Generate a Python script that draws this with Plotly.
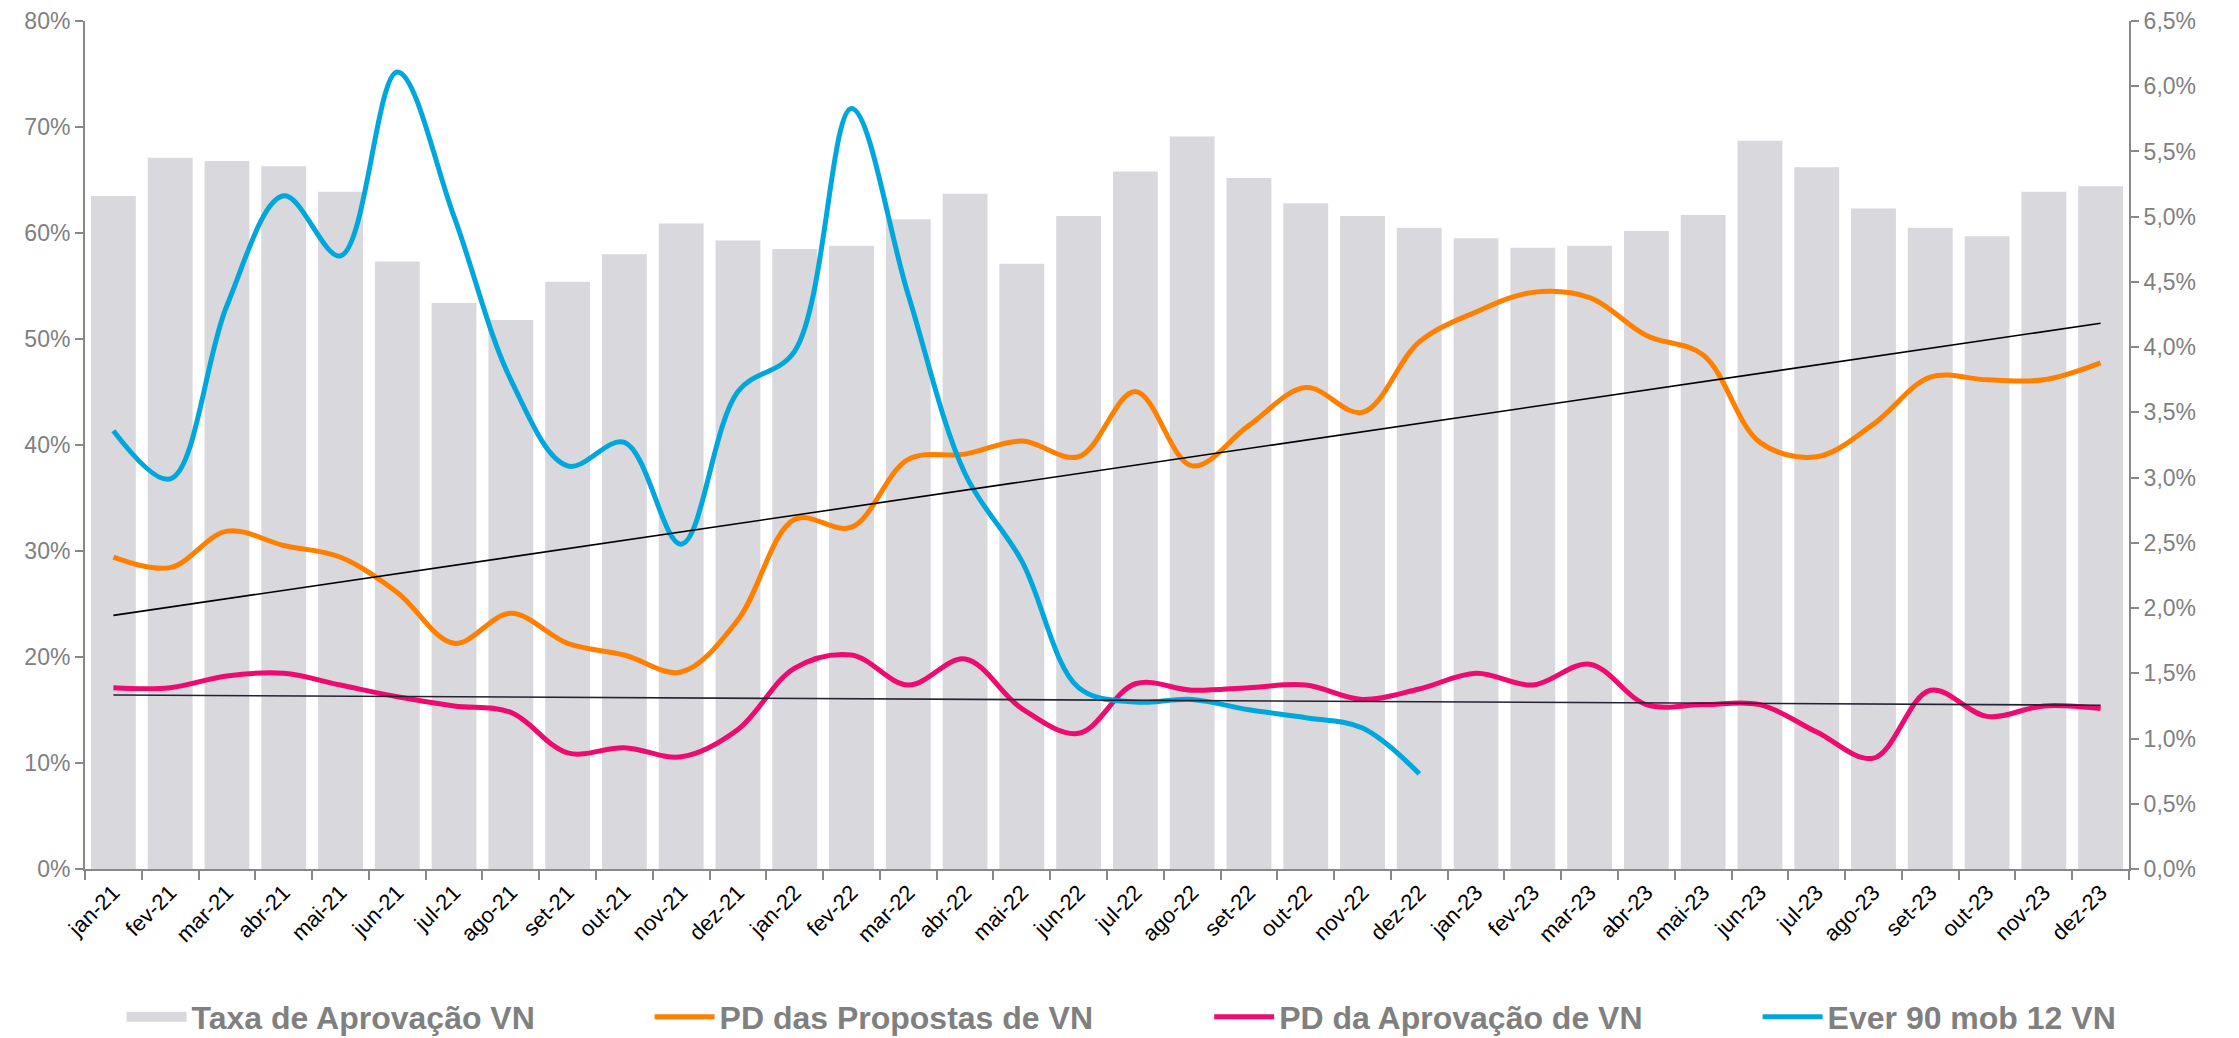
import numpy as np
import plotly.graph_objects as go

months = ["jan-21","fev-21","mar-21","abr-21","mai-21","jun-21","jul-21","ago-21","set-21","out-21","nov-21","dez-21",
          "jan-22","fev-22","mar-22","abr-22","mai-22","jun-22","jul-22","ago-22","set-22","out-22","nov-22","dez-22",
          "jan-23","fev-23","mar-23","abr-23","mai-23","jun-23","jul-23","ago-23","set-23","out-23","nov-23","dez-23"]

# Taxa de Aprovação VN (left axis)
taxa_aprovacao = [0.635,0.671,0.668,0.663,0.639,0.573,0.534,0.518,0.554,0.580,0.609,0.593,
                  0.585,0.588,0.613,0.637,0.571,0.616,0.658,0.691,0.652,0.628,0.616,0.605,
                  0.595,0.586,0.588,0.602,0.617,0.687,0.662,0.623,0.605,0.597,0.639,0.644]

# PD das Propostas de VN (right axis)
pd_propostas = [0.0239,0.0231,0.0259,0.0248,0.0239,0.0212,0.0173,0.0196,0.0173,0.0164,0.0151,0.0191,
                0.0268,0.0262,0.0314,0.0318,0.0328,0.0316,0.0366,0.0309,0.0340,0.0369,0.0350,0.0404,
                0.0427,0.0442,0.0438,0.0409,0.0394,0.0327,0.0316,0.0341,0.0377,0.0375,0.0375,0.0388]

# PD da Aprovação de VN (right axis)
pd_aprovacao = [0.0139,0.0139,0.0148,0.0150,0.0141,0.0132,0.0125,0.0120,0.0089,0.0093,0.0086,0.0107,
                0.0154,0.0164,0.0141,0.0161,0.0123,0.0104,0.0142,0.0137,0.0139,0.0141,0.0130,0.0138,
                0.0150,0.0141,0.0157,0.0126,0.0126,0.0126,0.0105,0.0085,0.0137,0.0117,0.0125,0.0123]

# Ever 90 mob 12 VN (right axis), available until dez-22
ever90 = [0.0336,0.0299,0.0432,0.0516,0.0470,0.0611,0.0500,0.0375,0.0309,0.0327,0.0249,0.0366,
          0.0397,0.0583,0.0440,0.0303,0.0236,0.0139,0.0128,0.0130,0.0122,0.0116,0.0108,0.0073]

left_ticks = [0,0.1,0.2,0.3,0.4,0.5,0.6,0.7,0.8]
right_ticks = [0,0.005,0.01,0.015,0.02,0.025,0.03,0.035,0.04,0.045,0.05,0.055,0.06,0.065]

GREY = "#808080"
AXIS = "#888888"
FONT = "Liberation Sans, Arial, sans-serif"
BAR_COLOR = "#d9d8dd"

idx = np.arange(len(months))
c1 = np.polyfit(idx, pd_propostas, 1)
c2 = np.polyfit(idx, pd_aprovacao, 1)
trend1 = np.polyval(c1, idx)
trend2 = np.polyval(c2, idx)

fig = go.Figure()
fig.add_trace(go.Bar(x=months, y=taxa_aprovacao, name="Taxa de Aprovação VN", showlegend=False,
                     marker=dict(color=BAR_COLOR, line=dict(width=0)), yaxis="y"))
# legend-only entry giving the bar series a wide rectangular swatch
fig.add_trace(go.Scatter(x=[None], y=[None], name="Taxa de Aprovação VN", mode="lines",
                         line=dict(color=BAR_COLOR, width=17), legend="legend", yaxis="y"))
fig.add_trace(go.Scatter(x=months, y=pd_propostas, name="PD das Propostas de VN", mode="lines", legend="legend2",
                         line=dict(color="#ff8000", width=5, shape="spline", smoothing=1.0), yaxis="y2"))
fig.add_trace(go.Scatter(x=months, y=pd_aprovacao, name="PD da Aprovação de VN", mode="lines", legend="legend3",
                         line=dict(color="#ee0a6e", width=5, shape="spline", smoothing=1.0), yaxis="y2"))
fig.add_trace(go.Scatter(x=months[:len(ever90)], y=ever90, name="Ever 90 mob 12 VN", mode="lines", legend="legend4",
                         line=dict(color="#00a7dc", width=5, shape="spline", smoothing=1.0), yaxis="y2"))
fig.add_trace(go.Scatter(x=months, y=trend1, mode="lines", showlegend=False,
                         line=dict(color="#000000", width=1.6), yaxis="y2"))
fig.add_trace(go.Scatter(x=months, y=trend2, mode="lines", showlegend=False,
                         line=dict(color="#222233", width=1.6), yaxis="y2"))

legend_font = dict(size=32, color=GREY, family=FONT, weight="bold")
def leg(x):
    return dict(orientation="h", x=x, xanchor="left", y=-0.1745, yanchor="middle", itemwidth=60,
                font=legend_font, bgcolor="rgba(0,0,0,0)")

fig.update_layout(
    width=2231, height=1030,
    margin=dict(l=77, r=110, t=13, b=169, autoexpand=False),
    plot_bgcolor="white", paper_bgcolor="white",
    separators=",.",
    bargap=0.21,
    font=dict(family=FONT, color=GREY),
    xaxis=dict(type="category", tickangle=-45, tickfont=dict(size=22, color="#000000", family=FONT),
               showline=True, linecolor=AXIS, linewidth=2, ticks="outside", tickson="boundaries",
               ticklen=9, tickwidth=2, tickcolor=AXIS, showgrid=False, zeroline=False, automargin=False,
               range=[-0.5, len(months) - 0.5]),
    yaxis=dict(range=[0, 0.8], tickvals=left_ticks, tickformat=".0%", ticklabeloverflow="allow",
               tickfont=dict(size=23, color=GREY, family=FONT), automargin=False,
               showline=True, linecolor=AXIS, linewidth=2, ticks="outside", ticklen=8,
               tickwidth=2, tickcolor=AXIS, showgrid=False, zeroline=False),
    yaxis2=dict(range=[0, 0.065], tickvals=right_ticks, tickformat=".1%", overlaying="y", side="right",
                ticklabeloverflow="allow",
                tickfont=dict(size=23, color=GREY, family=FONT), automargin=False,
                showline=True, linecolor=AXIS, linewidth=2, ticks="outside", ticklen=8,
                tickwidth=2, tickcolor=AXIS, showgrid=False, zeroline=False),
    legend=leg(0.0179),
    legend2=leg(0.2762),
    legend3=leg(0.5500),
    legend4=leg(0.8183),
    showlegend=True,
)

fig.write_html("out.html")
